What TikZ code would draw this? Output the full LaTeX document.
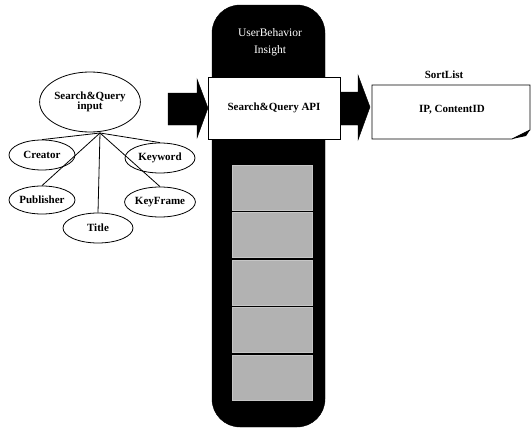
\documentclass[tikz,border=0pt]{standalone}
\usepackage{fontspec}
\setmainfont{Liberation Serif}
\usepackage{tikz}
\usetikzlibrary{shapes.geometric}
\tikzset{field/.style={draw,ellipse,thick,inner sep=0pt,font=\bfseries\fontsize{11}{12}\selectfont},
  grybox/.style={fill=gray!60,draw=gray!45,minimum width=80pt,minimum height=45pt},
  blockarrow/.style={fill=black}}

\begin{document}
\begin{tikzpicture}[x=1pt,y=-1pt]
   \useasboundingbox (0,0) rectangle (531,431);
   % query input and its fields
   \node[field,minimum width=94pt,minimum height=60pt,align=center] (inp) at (90,102) {Search\&Query\\[-2pt]input};
   \node[field,minimum width=66pt,minimum height=30pt] (creator) at (42,155) {Creator};
   \node[field,minimum width=70pt,minimum height=30pt] (keyword) at (160,158) {Keyword};
   \node[field,minimum width=66pt,minimum height=28pt] (publisher) at (42,200) {Publisher};
   \node[field,minimum width=70pt,minimum height=30pt] (keyframe) at (160,202) {KeyFrame};
   \node[field,minimum width=70pt,minimum height=30pt] (title) at (98,228) {Title};
   \coordinate (hub) at (100,133);
   \foreach \f in {creator,publisher,title,keyword,keyframe}
     \draw[thick] (hub) -- (\f.north);
   % the engine
   \draw[fill=black,rounded corners=28pt] (212,5) rectangle (325,427);
   \node[white,align=center,font=\fontsize{11.5}{17}\selectfont] (ubi) at (270,42) {UserBehavior\\Insight};
   \draw[blockarrow] (168,93) -- (197,93) -- (197,79) -- (208,108) -- (197,138) -- (197,125) -- (168,125) -- cycle;
   \draw[blockarrow] (338,92) -- (358,92) -- (358,75) -- (370,107) -- (358,140) -- (358,125) -- (338,125) -- cycle;
   \node[draw,thick,fill=white,minimum width=132pt,minimum height=62pt,font=\bfseries\fontsize{11}{12}\selectfont] (api) at (274,108) {Search\&Query API};
   \foreach \i in {0,...,4}
     \node[grybox] (g\i) at (272,{187.5+47.5*\i}) {};
   % result list
   \draw[thick,fill=white] (372,85) -- (530,85) -- (530,130) -- (512,139) -- (372,139) -- cycle;
   \fill (512,139) -- (530,130) -- (526,136) -- cycle;
   \node[font=\bfseries\fontsize{11}{12}\selectfont] (ip) at (452,110) {IP, ContentID};
   \node[font=\bfseries\fontsize{11}{12}\selectfont] (sort) at (444,75) {SortList};
\end{tikzpicture}
\end{document}
